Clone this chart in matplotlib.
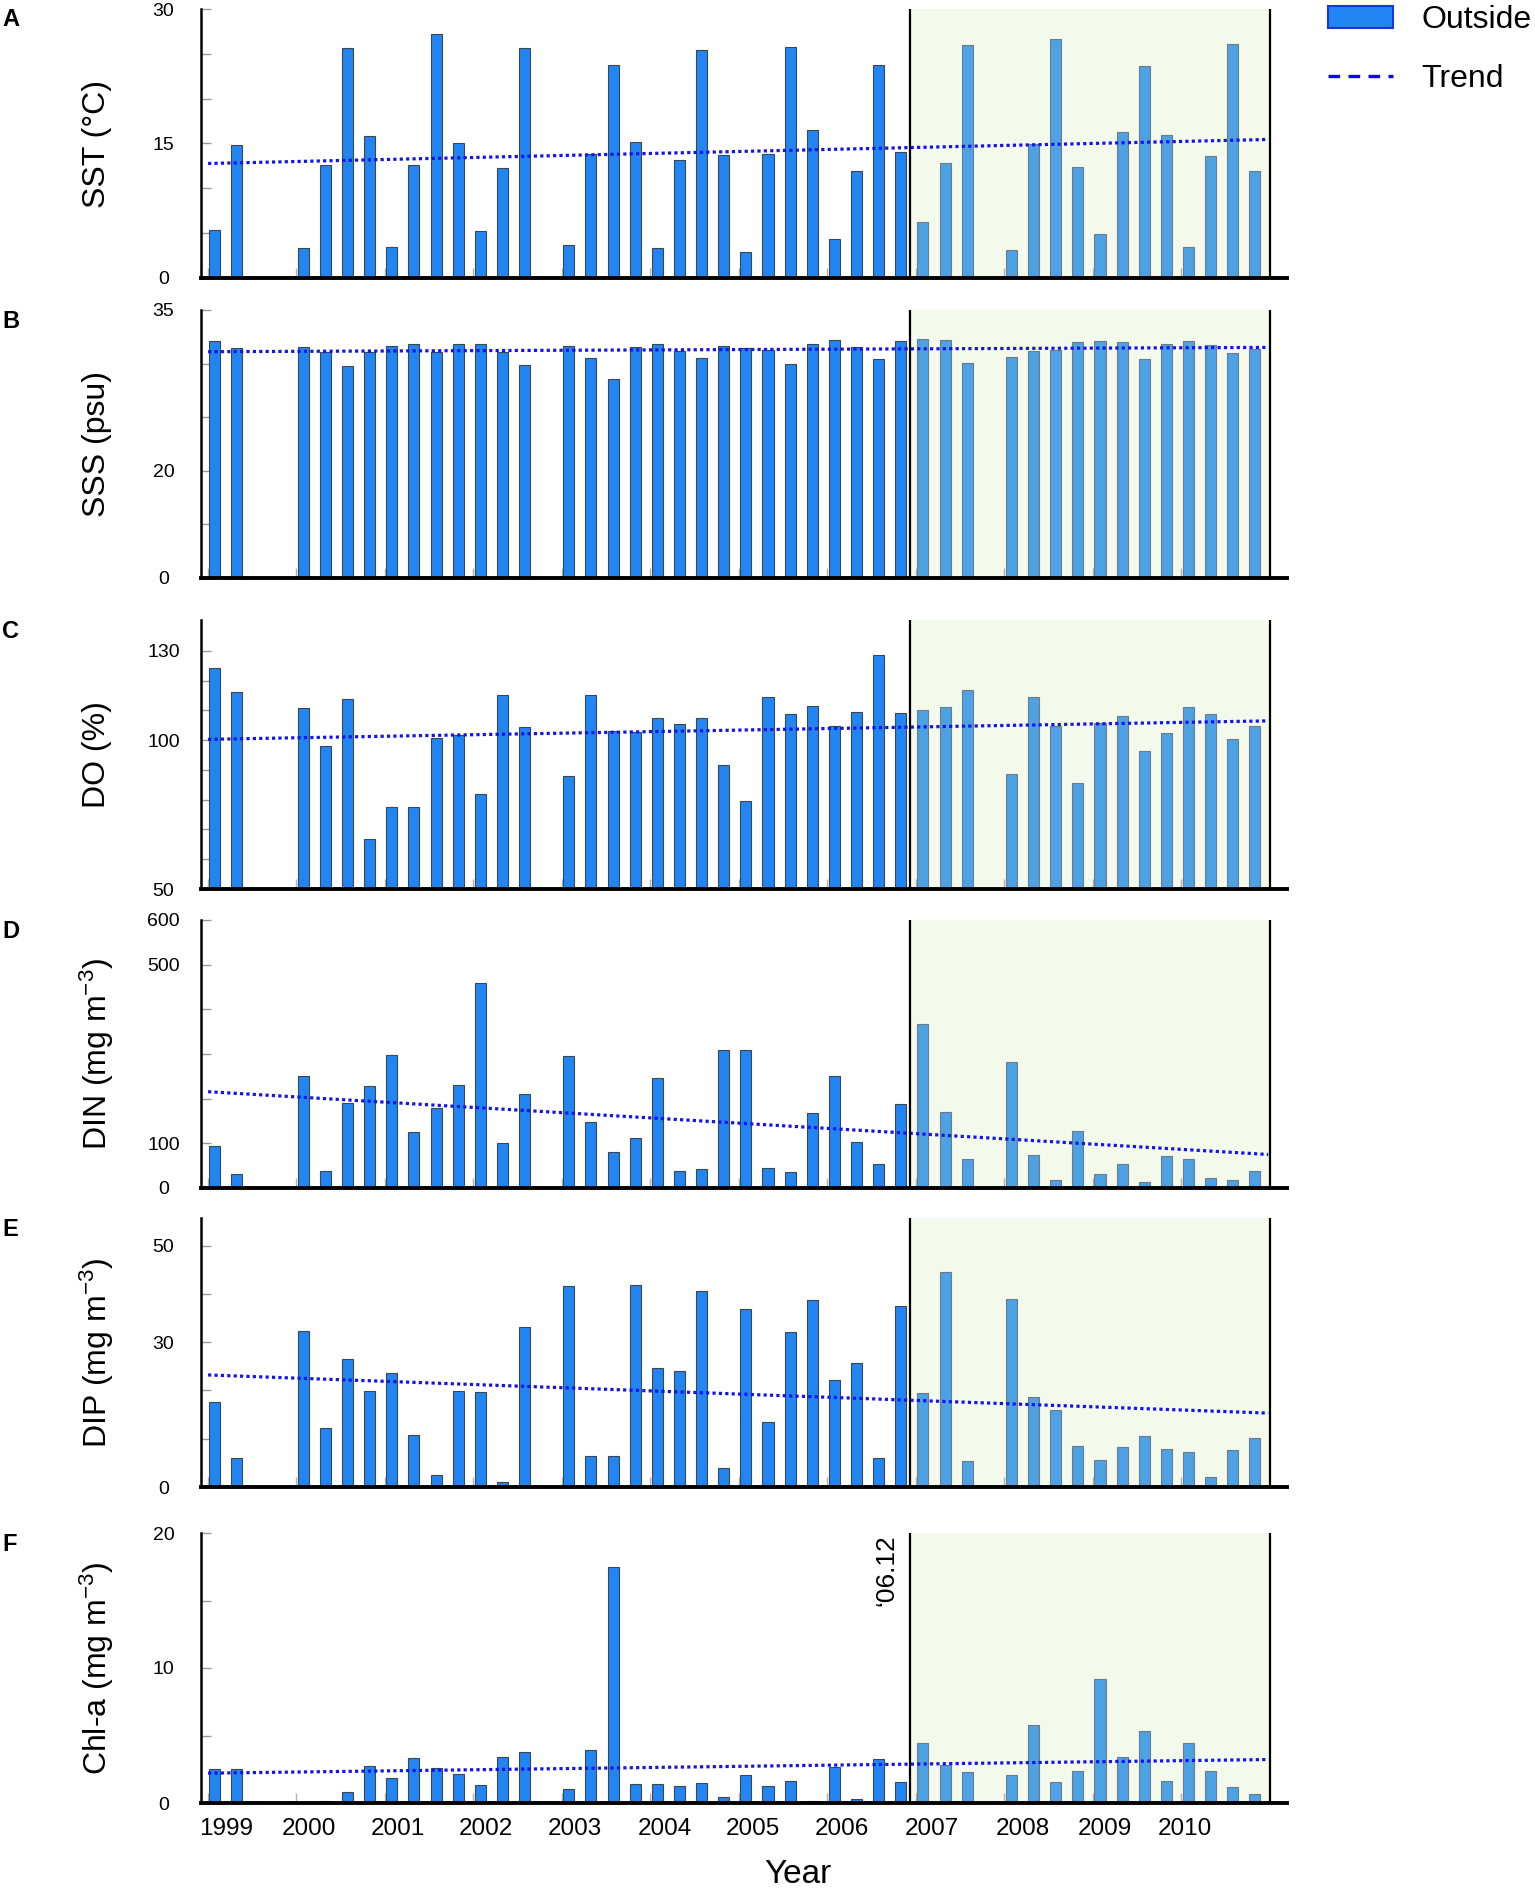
import numpy as np
import matplotlib
matplotlib.use("Agg")
import matplotlib.pyplot as plt
from matplotlib.patches import Patch
from matplotlib.lines import Line2D

plt.rcParams['font.family'] = ['Liberation Sans', 'DejaVu Sans']
plt.rcParams['mathtext.fontset'] = 'custom'
plt.rcParams['mathtext.rm'] = 'Liberation Sans'
plt.rcParams['mathtext.it'] = 'Liberation Sans:italic'
plt.rcParams['mathtext.bf'] = 'Liberation Sans:bold'

nan = np.nan
# 48 quarterly sampling slots, 1999-2010
sst = [5.3, 14.8, nan, nan, 3.3, 12.55, 25.6, 15.8, 3.45, 12.55,
       27.2, 15.1, 5.2, 12.3, 25.7, nan, 3.7, 13.8, 23.7, 15.2,
       3.4, 13.2, 25.4, 13.7, 2.9, 13.8, 25.8, 16.55, 4.3, 11.9,
       23.8, 14.1, 6.3, 12.85, 26.0, nan, 3.1, 14.9, 26.7, 12.4,
       4.9, 16.3, 23.6, 16.0, 3.5, 13.6, 26.1, 11.9]
sss = [32.13, 31.48, nan, nan, 31.57, 31.08, 29.75, 31.08, 31.64, 31.85,
       31.05, 31.85, 31.85, 31.05, 29.85, nan, 31.67, 30.56, 28.61, 31.57,
       31.85, 31.2, 30.52, 31.67, 31.48, 31.3, 29.97, 31.85, 32.22, 31.57,
       30.4, 32.1, 32.31, 32.22, 30.09, nan, 30.65, 31.14, 31.3, 32.04,
       32.13, 32.04, 30.46, 31.82, 32.1, 31.76, 30.96, 31.39]
do = [124.3, 116.2, nan, nan, 110.85, 98.1, 113.9, 66.9, 77.7, 77.7,
      100.6, 101.6, 81.8, 115.2, 104.5, nan, 88.0, 115.2, 103.1, 102.9,
      107.6, 105.4, 107.5, 91.8, 79.6, 114.4, 108.7, 111.5, 104.9, 109.4,
      128.7, 109.2, 110.2, 111.2, 116.9, nan, 88.5, 114.65, 104.9, 85.6,
      105.8, 108.2, 96.4, 102.3, 111.2, 108.7, 100.4, 104.7]
din = [93.7, 32, nan, nan, 250.6, 38.7, 191, 227.5, 298, 125,
       179, 231, 460, 101, 211, nan, 296, 147, 79.6, 113,
       246, 38, 43, 310, 308.6, 45.4, 36.4, 167, 250, 103,
       53.5, 187, 367, 171, 64.7, nan, 281, 75, 18.6, 128,
       32, 52.8, 13.4, 70.6, 66, 23, 18.6, 37]
dip = [17.6, 6.05, nan, nan, 32.3, 12.3, 26.5, 19.8, 23.6, 10.8,
       2.5, 19.8, 19.7, 1.03, 33.1, nan, 41.6, 6.5, 6.5, 41.9,
       24.7, 24.0, 40.6, 3.9, 36.8, 13.4, 32.0, 38.8, 22.1, 25.6,
       6.1, 37.4, 19.5, 44.5, 5.3, nan, 39.0, 18.6, 15.9, 8.4,
       5.5, 8.2, 10.65, 7.9, 7.15, 2.06, 7.6, 10.2]
chl = [2.49, 2.49, nan, nan, nan, 0.18, 0.85, 2.71, 1.88, 3.32,
       2.59, 2.14, 1.36, 3.44, 3.79, nan, 1.06, 3.92, 17.49, 1.38,
       1.38, 1.28, 1.48, 0.45, 2.04, 1.28, 1.63, 0.15, 2.64, 0.3,
       3.24, 1.53, 4.47, 2.84, 2.26, nan, 2.06, 5.8, 1.58, 2.34,
       9.22, 3.42, 5.3, 1.63, 4.47, 2.36, 1.18, 0.68]

trend_start = [12.77, 31.11, 100.3, 215.6, 23.2, 2.21]
trend_end = [15.45, 31.51, 106.5, 75.0, 15.3, 3.22]

panel_letters = ['A', 'B', 'C', 'D', 'E', 'F']
ylabels = ['SST (°C)', 'SSS (psu)', 'DO (%)', 'DIN (mg m$^{-3}$)',
           'DIP (mg m$^{-3}$)', 'Chl-a (mg m$^{-3}$)']
ylims = [(0, 30), (0, 35), (50, 140.4), (0, 600), (0, 55.7), (0, 20)]
yticks_all = [[0, 5, 10, 15, 20, 25, 30],
              [0, 10, 20, 25, 30, 35],
              [50, 60, 70, 80, 90, 100, 110, 120, 130],
              [0, 100, 200, 300, 400, 500, 600],
              [0, 10, 20, 30, 40, 50],
              [0, 5, 10, 15, 20]]
ytick_labeled = [[0, 15, 30], [0, 20, 35], [50, 100, 130],
                 [0, 100, 500, 600], [0, 30, 50], [0, 10, 20]]

years = ['1999', '2000', '2001', '2002', '2003', '2004',
         '2005', '2006', '2007', '2008', '2009', '2010']
year_label_pos = [0.5, 4.26, 8.27, 12.25, 16.27, 20.35,
                  24.3, 28.35, 32.4, 36.5, 40.2, 43.85]
cut_label = '\u201806.12'
cut_slot = 31.4
end_slot = 47.7

series = [sst, sss, do, din, dip, chl]

W, H = 1535, 1892
fig = plt.figure(figsize=(W / 100, H / 100), dpi=100)

panel_px = [(9, 278), (310, 578), (620, 889), (920, 1188), (1218, 1487), (1533, 1803)]
left_px, right_px = 201, 1287

col_before = '#2186F4'
col_after = '#4DA1E5'
shade = '#F3FAEC'
trend_col = '#1414E6'


def fwd(y):
    y = np.asarray(y, dtype=float)
    return np.where(y <= 20, y / 10.0, 2.0 + (y - 20.0) / 5.0)


def inv(u):
    u = np.asarray(u, dtype=float)
    return np.where(u <= 2, u * 10.0, 20.0 + (u - 2.0) * 5.0)


slots = np.arange(48)
for i, vals in enumerate(series):
    t, b = panel_px[i]
    ax = fig.add_axes([left_px / W, 1 - b / H, (right_px - left_px) / W, (b - t) / H])
    if i == 1:
        ax.set_yscale('function', functions=(fwd, inv))
    v = np.array(vals, dtype=float)
    ok = ~np.isnan(v)
    before = ok & (slots < cut_slot)
    after = ok & (slots > cut_slot)
    ax.axvspan(cut_slot, end_slot, facecolor=shade, edgecolor='none', zorder=0)
    ax.bar(slots[before], v[before], width=0.5, color=col_before,
           edgecolor='#3c4650', linewidth=0.8, zorder=2)
    ax.bar(slots[after], v[after], width=0.5, color=col_after,
           edgecolor='#6f7a86', linewidth=0.8, zorder=2)
    ax.plot([-0.3, 47.6], [trend_start[i], trend_end[i]], color=trend_col,
            lw=2.3, linestyle=(0, (1, 1)), zorder=3)
    ax.axvline(cut_slot, color='black', lw=1.6, zorder=4)
    ax.axvline(end_slot, color='black', lw=1.6, zorder=4)

    ax.set_xlim(-0.62, 48.45)
    ax.set_ylim(*ylims[i])
    for s in ['top', 'right']:
        ax.spines[s].set_visible(False)
    ax.spines['left'].set_linewidth(1.8)
    ax.spines['bottom'].set_linewidth(2.8)
    ax.spines['bottom'].set_zorder(5)
    ax.set_facecolor('none')

    ax.set_yticks(yticks_all[i])
    ax.set_yticklabels([str(x) if x in ytick_labeled[i] else '' for x in yticks_all[i]],
                       ha='center')
    ax.tick_params(axis='y', direction='in', length=7, width=1, color='#9a9a9a',
                   pad=27, labelsize=14)

    ax.set_xticks(np.arange(12) * 4 - 0.32, minor=True)
    ax.set_xticks(year_label_pos)
    ax.tick_params(axis='x', which='minor', direction='in', length=7, width=1,
                   color='#b0b0b0')
    ax.tick_params(axis='x', which='major', length=0, pad=11, labelsize=17.5)
    if i == 5:
        ax.set_xticklabels(years)
        ax.text(cut_slot - 0.5, ylims[i][1] - 0.1, cut_label, rotation=90,
                ha='right', va='top', fontsize=19)
    else:
        ax.set_xticklabels([])

    cy = 1 - (t + b) / 2 / H
    fig.text(97 / W, cy, ylabels[i], rotation=90, ha='center', va='center', fontsize=23)
    fig.text(2 / W, 1 - (t + 11) / H, panel_letters[i], ha='left', va='center',
             fontsize=17, fontweight='bold')

fig.text(798 / W, 1 - 1874 / H, 'Year', ha='center', va='center', fontsize=24)

handles = [Patch(facecolor=col_before, edgecolor='#1a35e0', linewidth=1.5),
           Line2D([0], [0], color='#0a0af0', lw=2.4, linestyle=(0, (3.5, 2.5)))]
fig.legend(handles, ['Outside', 'Trend'], loc='upper left',
           bbox_to_anchor=(1328 / W, 1 - 5 / H), frameon=False, fontsize=23,
           handlelength=2.05, handletextpad=0.88, labelspacing=0.92,
           borderpad=0, borderaxespad=0)

fig.savefig('out.png', dpi=100)
